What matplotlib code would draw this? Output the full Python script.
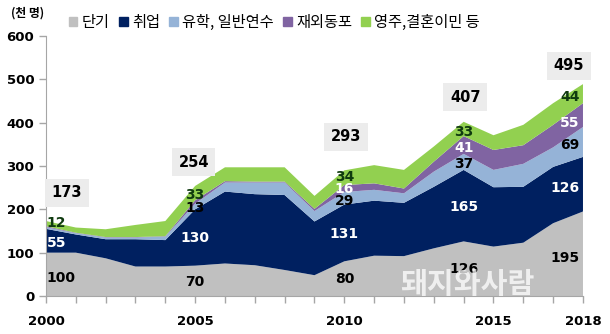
import matplotlib.pyplot as plt

plt.rcParams['font.family'] = ['Noto Sans CJK KR', 'DejaVu Sans']

years = list(range(2000, 2019))
short_term = [100, 100, 87, 68, 68, 70, 75, 71, 60, 48, 80, 93, 92, 110, 126, 114, 123, 168, 195]
work = [55, 42, 44, 63, 61, 130, 166, 164, 173, 124, 131, 127, 123, 142, 165, 137, 129, 130, 126]
study = [4, 3, 4, 4, 8, 13, 21, 27, 29, 24, 29, 25, 22, 35, 37, 40, 53, 45, 69]
overseas_kor = [2, 1, 1, 1, 1, 8, 3, 2, 2, 5, 16, 15, 11, 23, 41, 46, 43, 52, 55]
residence = [12, 12, 18, 28, 35, 33, 32, 33, 33, 30, 34, 42, 43, 35, 33, 34, 47, 50, 44]

labels = ['단기', '취업', '유학, 일반연수', '재외동포', '영주,결혼이민 등']
colors = ['#c0c0c0', '#002060', '#95b3d7', '#8064a2', '#92d050']

label_years = [2000, 2005, 2010, 2014, 2018]
totals = [173, 254, 293, 407, 495]
xtick_years = [2000, 2005, 2010, 2015, 2018]

series = [short_term, work, study, overseas_kor, residence]

# where each value label sits (y in thousands), None = not labelled
label_y = {
    2000: [42, 122, None, None, 168],
    2005: [32, 134, 204, None, 234],
    2010: [39, 143, 219, 247, 274],
    2014: [62, 206, 305, 342, 378],
    2018: [88, 249, 348, 399, 459],
}
total_pos = {2000: (2000.7, 238), 2005: (2004.95, 309), 2010: (2010.05, 367),
             2014: (2014.05, 459), 2018: (2017.53, 531)}

fig = plt.figure(figsize=(6.1, 3.34), dpi=100)
ax = fig.add_axes([0.0754, 0.1138, 0.8803, 0.7784])
ax.stackplot(years, *series, colors=colors, linewidth=0)

ax.set_xlim(2000, 2018)
ax.set_ylim(0, 600)
ax.set_yticks(range(0, 601, 100))
ax.set_xticks(years, minor=True)
ax.set_xticks(xtick_years)
for s in ['top', 'right']:
    ax.spines[s].set_visible(False)
for s in ['left', 'bottom']:
    ax.spines[s].set_color('#a6a6a6')
ax.tick_params(axis='both', which='both', color='#a6a6a6', length=5, width=1)
ax.tick_params(axis='x', which='major', pad=9)
for t in ax.get_xticklabels() + ax.get_yticklabels():
    t.set_fontweight('bold')
    t.set_fontsize(9.5)
    t.set_family(['DejaVu Sans'])

text_colors = ['black', 'white', 'black', 'white', '#0f3a0f']
for yr, tot in zip(label_years, totals):
    i = years.index(yr)
    if yr == 2000:
        ha, dx = 'left', 0.02
    elif yr == 2018:
        ha, dx = 'right', -0.12
    else:
        ha, dx = 'center', 0
    for k, s in enumerate(series):
        ypos = label_y[yr][k]
        if ypos is None:
            continue
        ax.text(yr + dx, ypos, str(s[i]), ha=ha, va='center', color=text_colors[k],
                fontsize=10, fontweight='bold', family=['DejaVu Sans'])
    tx, ty = total_pos[yr]
    ax.text(tx, ty, str(tot), ha='center', va='center', fontsize=10.5, fontweight='bold',
            family=['DejaVu Sans'],
            bbox=dict(boxstyle='square,pad=0.45', facecolor='#ececec', edgecolor='none'))

# legend along the top
handles = [plt.Rectangle((0, 0), 1, 1, color=c) for c in colors]
fig.legend(handles, labels, loc='center', bbox_to_anchor=(0.45, 0.934), ncol=5,
           frameon=False, fontsize=11, handlelength=0.55, handleheight=0.55,
           handletextpad=0.3, columnspacing=0.6)

fig.text(0.018, 0.962, '(천 명)', fontsize=8.5, fontweight='bold', va='center')

fig.text(0.766, 0.15, '돼지와사람', fontsize=21, fontweight='bold', color='white',
         alpha=0.75, ha='center', va='center')

fig.savefig('out.png', dpi=100)
